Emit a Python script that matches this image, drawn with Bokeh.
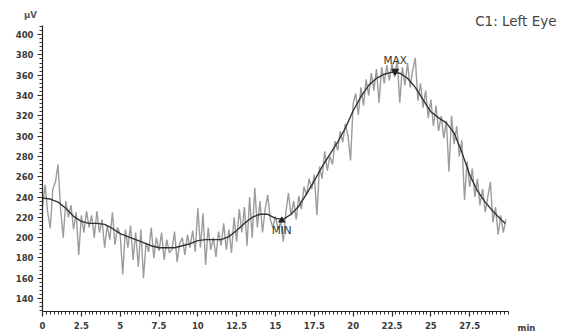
import numpy as np
from bokeh.plotting import figure
from bokeh.models import FixedTicker, Range1d, Label, LinearAxis
from bokeh.core.properties import value
from bokeh.embed import file_html
from bokeh.resources import INLINE

# ---- data ----
raw_v = [
    230, 252, 225, 209, 248, 255, 272, 228, 200, 236,
    220, 232, 208, 225, 183, 222, 205, 226, 210, 222,
    200, 226, 205, 218, 190, 212, 198, 225, 193, 210,
    203, 164, 208, 190, 212, 178, 205, 171, 208, 160,
    195, 186, 210, 180, 200, 187, 205, 178, 198, 185,
    188, 206, 176, 194, 200, 183, 203, 190, 207, 186,
    229, 190, 224, 173, 210, 188, 200, 181, 206, 192,
    214, 188, 208, 185, 220, 196, 228, 205, 230, 192,
    240, 200, 249, 210, 236, 205, 228, 242, 218, 210,
    221, 208, 216, 196, 225, 244, 222, 236, 218, 241,
    228, 250, 242, 258, 248, 262, 222, 270, 258, 285,
    266, 280, 272, 295, 286, 305, 294, 312, 300, 276,
    332, 342, 321, 348, 330, 356, 340, 362, 345, 366,
    333, 368, 352, 370, 355, 372, 358, 375, 333, 368,
    350, 372, 348, 365, 377, 335, 352, 328, 345, 318,
    336, 310, 330, 305, 320, 298, 315, 265, 320, 292,
    310, 280, 296, 237, 275, 250, 268, 240, 258, 232,
    248, 225, 240, 255, 215, 230, 203, 222, 205, 218,
]
raw_t = [i / 6 for i in range(len(raw_v))]

smooth_t = [0, 0.5, 1, 1.5, 2, 2.5, 3, 3.5, 4, 4.5, 5, 5.5, 6, 6.5, 7, 7.5, 8, 8.5, 9, 9.5,
            10, 10.5, 11, 11.5, 12, 12.5, 13, 13.5, 14, 14.5, 15, 15.5, 16, 16.5, 17, 17.5,
            18, 18.5, 19, 19.5, 20, 20.5, 21, 21.5, 22, 22.5, 23, 23.5, 24, 24.5, 25, 25.5,
            26, 26.5, 27, 27.5, 28, 28.5, 29, 29.5, 29.8]
smooth_v = [239, 238, 235, 229, 221, 216, 214, 214, 213, 209, 204, 201, 198, 195, 192, 190,
            190, 190, 192, 194, 197, 198, 198, 198, 201, 207, 214, 220, 223, 223, 219, 218,
            223, 231, 243, 256, 270, 282, 294, 308, 325, 339, 350, 357, 361, 363, 362, 357,
            348, 336, 324, 318, 313, 303, 284, 262, 246, 235, 226, 218, 214]

max_t, max_v = [22.7], [364]
min_t, min_v = [15.4], [217]

x_major = [0, 2.5, 5, 7.5, 10, 12.5, 15, 17.5, 20, 22.5, 25, 27.5]
y_major = [140, 160, 180, 200, 220, 240, 260, 280, 300, 320, 340, 360, 380, 400]
x_lo, x_hi = 0, 30
y_lo, y_hi = 127.2, 409

# ---- layout: frame = whole canvas, axes drawn at fixed locations ----
W, H = 568, 334
AX_L, AX_R, AX_T, AX_B = 42, 508, 25, 311   # axis box in canvas pixels
kx = (AX_R - AX_L) / (x_hi - x_lo)
ky = (AX_B - AX_T) / (y_hi - y_lo)
xr = Range1d(x_lo - AX_L / kx, x_hi + (W - AX_R) / kx)
yr = Range1d(y_lo - (H - AX_B) / ky, y_hi + AX_T / ky)

p = figure(width=W, height=H, output_backend="svg", toolbar_location=None,
           x_range=xr, y_range=yr, x_axis_type=None, y_axis_type=None,
           min_border=0, min_border_left=0, min_border_right=0,
           min_border_top=0, min_border_bottom=0)
p.outline_line_color = None
p.grid.visible = False
p.background_fill_color = "white"
p.border_fill_color = "white"

p.line(raw_t, raw_v, line_color="#9c9c9c", line_width=1.4)
p.line(smooth_t, smooth_v, line_color="#333333", line_width=1.4)

p.scatter(max_t, max_v, marker="inverted_triangle", size=7, fill_color="#222222", line_color="#222222")
p.scatter(min_t, min_v, marker="triangle", size=6, fill_color="#222222", line_color="#222222")

FONT = "DejaVu Sans"
p.text(max_t, max_v, text=["MAX"], y_offset=-5, text_align="center", text_baseline="bottom",
       text_font=value(FONT), text_font_size="10.5px", text_color="#333333")
p.text(min_t, min_v, text=["MIN"], y_offset=4, text_align="center", text_baseline="top",
       text_font=value(FONT), text_font_size="10.5px", text_color="#333333")

x_minor = [i * 0.25 for i in range(0, 121)]
y_minor = [128 + 4 * i for i in range(0, 71)]

xa = LinearAxis(ticker=FixedTicker(ticks=x_major, minor_ticks=x_minor),
                fixed_location=y_lo, bounds=(x_lo, x_hi))
ya = LinearAxis(ticker=FixedTicker(ticks=y_major, minor_ticks=y_minor),
                fixed_location=x_lo, bounds=(y_lo, y_hi))
p.add_layout(xa, "below")
p.add_layout(ya, "left")
for ax in (xa, ya):
    ax.axis_line_color = "#222222"
    ax.axis_line_width = 1.2
    ax.major_tick_line_color = "#222222"
    ax.major_tick_line_width = 1.2
    ax.minor_tick_line_color = "#333333"
    ax.major_tick_out = 5
    ax.major_tick_in = 0
    ax.minor_tick_out = 3
    ax.minor_tick_in = 0
    ax.major_label_text_font = FONT
    ax.major_label_text_font_size = "8.5px"
    ax.major_label_text_font_style = "bold"
    ax.major_label_text_color = "#3a3a3a"
xa.major_label_standoff = 5
ya.major_label_standoff = 4

# Label screen units: x from frame left, y from frame bottom (frame = canvas here)
p.add_layout(Label(x=30, y=H - 14, x_units="screen", y_units="screen", text="µV",
                   text_align="center", text_baseline="middle", text_font=FONT,
                   text_font_size="8.5px", text_font_style="bold", text_color="#555555"))
p.add_layout(Label(x=556, y=H - 20, x_units="screen", y_units="screen", text="C1: Left Eye",
                   text_align="right", text_baseline="middle", text_font=FONT,
                   text_font_size="13.5px", text_color="#444444"))
p.add_layout(Label(x=526, y=H - 327, x_units="screen", y_units="screen", text="min",
                   text_align="center", text_baseline="middle", text_font=FONT,
                   text_font_size="8.5px", text_font_style="bold", text_color="#3a3a3a"))

open("out.html", "w").write(file_html(p, INLINE))
